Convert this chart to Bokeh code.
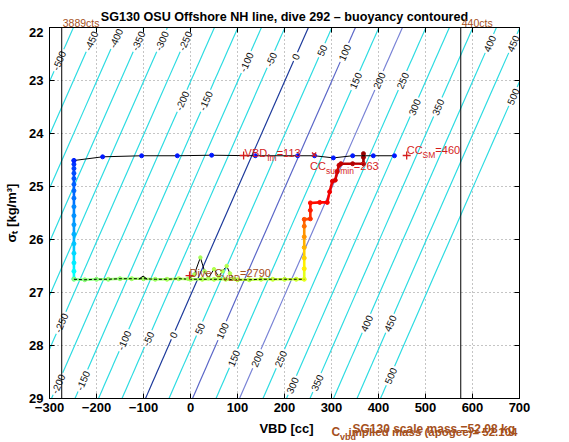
import math
import numpy as np
from bokeh.plotting import figure
from bokeh.layouts import column
from bokeh.models import Range1d, FixedTicker, LinearAxis, Label, Span, ColumnDataSource
from bokeh.core.properties import value
from bokeh.transform import linear_cmap
from bokeh.embed import file_html
from bokeh.resources import INLINE

# ------------------------------------------------------------------ data
TITLE = "SG130 OSU Offshore NH line, dive 292 \u2013 buoyancy contoured"
X_LABEL = "VBD [cc]"
Y_LABEL = "\u03c3\u209c [kg/m\u00b3]"
X_TICKS = [-300, -200, -100, 0, 100, 200, 300, 400, 500, 600, 700]
Y_TICKS = [22, 23, 24, 25, 26, 27, 28, 29]

SCALE_MASS_G = 52080.0      # SG130 scale mass
VOLUME_CC = 50708.0         # hull volume giving the neutral buoyancy line
CONTOUR_LEVELS = [-500, -450, -400, -350, -300, -250, -200, -150, -100, -50, 0,
                  50, 100, 150, 200, 250, 300, 350, 400, 450, 500]
CONTOUR_SPECIAL = {0: "#1f3c9c", 100: "#5c68c8", 200: "#7a84d6"}
CONTOUR_DEFAULT = "#2fdce2"

LABEL_LEVELS = [-500, -450, -400, -350, -300, -250, -200, -150, -100, -50, 0, 50, 100,
                150, 200, 250, 300, 350, 400, 450, 500,
                -250, -200, -150, -100, -50, 0, 50, 100, 150, 200, 250, 300, 350,
                400, 450, 500]
LABEL_SIGMAS = [22.62, 22.25, 22.2, 22.25, 22.25, 22.25, 23.38, 23.38, 22.65, 22.6, 22.55,
                22.43, 22.47, 23.0, 23.0, 23.0, 23.5, 23.5, 22.3, 22.3, 23.3,
                27.57, 28.72, 28.66, 27.9, 27.87, 27.8, 27.68, 27.72, 28.24, 28.25,
                28.25, 28.75, 28.7, 27.58, 27.58, 28.57]

VBD_LIMITS = [-274, 575]
VBD_LIMIT_TEXT = ["3889cts", "440cts"]

SURF_VBD = [434, 389, 345, 304, 264, 228, 138, 45, -28, -104, -187, -248]
SURF_SIG = [24.42, 24.42, 24.42, 24.46, 24.42, 24.42, 24.42, 24.41, 24.42, 24.42, 24.44, 24.51]
SURF_T = [0.15, 0.15, 0.15, 0.15, 0.15, 0.15, 0.15, 0.15, 0.15, 0.15, 0.15, 0.16]

DIVE_VBD = [-248, -248, -248, -248, -248, -248, -248, -248, -248, -248, -248, -248,
            -248, -248, -248, -248, -248]
DIVE_SIG = [24.51, 24.58, 24.66, 24.75, 24.85, 24.96, 25.08, 25.22, 25.38, 25.55, 25.72,
            25.90, 26.08, 26.26, 26.44, 26.60, 26.74]
DIVE_T = [0.17, 0.18, 0.19, 0.20, 0.21, 0.22, 0.23, 0.24, 0.26, 0.27, 0.28, 0.30, 0.32,
          0.34, 0.36, 0.38, 0.40]

BOT_VBD = [-248, -225, -200, -175, -150, -125, -100, -75, -50, -25, 0, 25, 50, 75, 100,
           125, 150, 175, 200, 225, 242]
BOT_SIG = [26.75, 26.76, 26.75, 26.75, 26.74, 26.74, 26.74, 26.75, 26.75, 26.74, 26.75,
           26.75, 26.75, 26.75, 26.76, 26.76, 26.75, 26.75, 26.75, 26.75, 26.75]
BOT_T = [0.50, 0.51, 0.51, 0.52, 0.52, 0.53, 0.53, 0.53, 0.54, 0.54, 0.54, 0.55, 0.55,
         0.55, 0.56, 0.56, 0.56, 0.57, 0.57, 0.58, 0.60]

CLIMB_VBD = [242, 242, 242, 242, 242, 242, 255, 255, 255, 275, 291, 296, 302, 308, 312,
             316, 320, 345, 368, 368, 368]
CLIMB_SIG = [26.55, 26.35, 26.15, 25.95, 25.75, 25.62, 25.61, 25.45, 25.31, 25.30, 25.30,
             25.10, 24.90, 24.88, 24.72, 24.60, 24.57, 24.57, 24.57, 24.45, 24.38]
CLIMB_T = [0.64, 0.67, 0.70, 0.73, 0.77, 0.80, 0.83, 0.85, 0.86, 0.87, 0.88, 0.89, 0.90,
           0.91, 0.92, 0.93, 0.94, 0.95, 0.96, 0.97, 0.98]

BUMP_VBD = [-110, -101, -92]
BUMP_SIG = [26.75, 26.69, 26.75]
WIG_VBD = [-5, 8, 21, 30, 38, 50, 60, 68, 77, 84, 92]
WIG_SIG = [26.74, 26.66, 26.34, 26.60, 26.73, 26.56, 26.70, 26.60, 26.50, 26.64, 26.74]
WIG_T = [0.54, 0.54, 0.54, 0.54, 0.54, 0.55, 0.55, 0.55, 0.55, 0.55, 0.55]

VBD_FM = 113
VBD_FM_SIG = 24.415
CC_SUR_MIN = 263
CC_SUR_MIN_SIG = 24.40
CC_SM = 460
CC_SM_SIG = 24.415
DIVE_MARK_VBD = -2
DIVE_MARK_SIG = 26.68
DIVE_C_VBD = 2790
SCALE_MASS_TEXT = "SG130 scale mass =52.08 kg"
IMPLIED_MASS_TEXT = "implied mass (apogee)= 52.104"

# ------------------------------------------------------------------ layout helpers
FONT = "Liberation Sans"
RED = "#d41c1c"
BROWN = "#a5501c"
WIN_W, WIN_H = 569, 442
FRAME_L, FRAME_T, FRAME_W, FRAME_H = 49, 27, 470, 371   # window px
MAIN_BOTTOM = 418                                         # window px where main figure ends
SX = FRAME_W / 1000.0
SY = FRAME_H / 7.0


def px2x(px):
    return (px - FRAME_L) / SX - 300.0


W_REG = {" ": 278, "(": 333, ")": 333, ".": 278, "/": 278, "=": 584, "[": 278, "]": 278,
         "-": 333, "A": 667, "B": 667, "C": 722, "D": 722, "G": 778, "M": 833, "S": 667,
         "V": 667, "a": 556, "b": 556, "c": 500, "d": 556, "e": 556, "f": 278, "g": 556,
         "i": 222, "k": 500, "l": 222, "m": 833, "n": 556, "o": 556, "p": 556, "r": 333,
         "s": 500, "t": 278, "u": 556, "v": 500, "y": 500}
W_BOLD = {" ": 278, "(": 333, ")": 333, ".": 278, "/": 278, "=": 584, "[": 333, "]": 333,
          "-": 333, "B": 722, "C": 722, "D": 722, "G": 778, "M": 833, "S": 667, "V": 667,
          "a": 556, "b": 611, "c": 556, "d": 611, "e": 556, "f": 333, "g": 611, "i": 278,
          "k": 556, "l": 278, "m": 889, "n": 611, "o": 611, "p": 611, "r": 389, "s": 556,
          "t": 333, "u": 611, "v": 556, "y": 556}


def text_w(s, size, bold):
    tab = W_BOLD if bold else W_REG
    return sum(tab.get(c, 556) for c in s) * size / 1000.0


def add_text(fig, x, y, txt, size, color, bold=False, align="left", angle=0.0):
    fig.add_layout(Label(x=x, y=y, text=txt, text_font=FONT, text_font_size=f"{size}px",
                         text_font_style="bold" if bold else "normal", text_color=color,
                         text_align=align, text_baseline="alphabetic", angle=angle))


def rich(fig, x, y, dx, dy, pieces, color, bold=False, ysc=SY):
    """Text pieces laid left to right; shift>0 moves a piece down (subscript)."""
    cur = 0.0
    for txt, size, shift in pieces:
        add_text(fig, x + (dx + cur) / SX, y + (dy + shift) / ysc, txt, size, color, bold)
        cur += text_w(txt, size, bold)


def strip(height, y0, y1):
    """Text strip above/below the axes; its frame lines up with the main frame."""
    f = figure(width=WIN_W, height=height, x_range=Range1d(-300, 700),
               y_range=Range1d(y0, y1), x_axis_type=None, y_axis_type=None,
               output_backend="svg", toolbar_location=None, title=None,
               min_border_left=FRAME_L, min_border_right=WIN_W - FRAME_L - FRAME_W,
               min_border_top=0, min_border_bottom=0)
    f.outline_line_color = None
    f.grid.visible = False
    f.background_fill_color = "white"
    f.border_fill_color = "white"
    return f


# ------------------------------------------------------------------ top strip (title)
ptop = strip(FRAME_T, FRAME_T, 0)
add_text(ptop, px2x(284), 16.5, TITLE, 12.6, "black", bold=True, align="center")
for v, t in zip(VBD_LIMITS, VBD_LIMIT_TEXT):
    add_text(ptop, v + 1 / SX, 22.5, t, 10.5, BROWN)

# ------------------------------------------------------------------ main plot
p = figure(width=WIN_W, height=MAIN_BOTTOM - FRAME_T,
           x_range=Range1d(-300, 700), y_range=Range1d(29, 22),
           output_backend="svg", toolbar_location=None, title=None,
           min_border_left=FRAME_L, min_border_right=WIN_W - FRAME_L - FRAME_W,
           min_border_top=0, min_border_bottom=MAIN_BOTTOM - FRAME_T - FRAME_H)
p.background_fill_color = "white"
p.border_fill_color = "white"
p.outline_line_color = "black"

for ax in (p.xaxis[0], p.yaxis[0]):
    ax.major_label_text_font = FONT
    ax.major_label_text_font_style = "bold"
    ax.major_label_text_font_size = "13px"
    ax.major_label_text_color = "black"
    ax.major_tick_in = 5
    ax.major_tick_out = 0
    ax.minor_tick_in = 0
    ax.minor_tick_out = 0
    ax.minor_tick_line_color = None
    ax.axis_line_color = "black"
    ax.major_tick_line_color = "black"
p.xaxis.ticker = FixedTicker(ticks=X_TICKS)
p.yaxis.ticker = FixedTicker(ticks=Y_TICKS)
p.xaxis.major_label_standoff = 4
p.yaxis.major_label_standoff = 6
p.yaxis.axis_label = Y_LABEL
p.yaxis.axis_label_text_font = FONT
p.yaxis.axis_label_text_font_style = "bold"
p.yaxis.axis_label_text_font_size = "13px"
p.yaxis.axis_label_text_color = "black"
p.yaxis.axis_label_standoff = 7
for loc, ticks in (("right", Y_TICKS), ("above", X_TICKS)):
    ax = LinearAxis(ticker=FixedTicker(ticks=ticks), major_tick_in=5, major_tick_out=0,
                    minor_tick_in=0, minor_tick_out=0,
                    minor_tick_line_color=None, major_label_text_font_size="0px",
                    major_label_text_color=None, major_label_standoff=0,
                    axis_line_color="black", major_tick_line_color="black")
    p.add_layout(ax, loc)

p.grid.grid_line_color = "#8a8a8a"
p.grid.grid_line_dash = "1 3"
p.grid.grid_line_width = 1


def _jet(v):
    r = min(max(1.5 - abs(4 * v - 3), 0), 1)
    g = min(max(1.5 - abs(4 * v - 2), 0), 1)
    b = min(max(1.5 - abs(4 * v - 1), 0), 1)
    return "#%02x%02x%02x" % (int(r * 255), int(g * 255), int(b * 255))


JET = [_jet(v) for v in np.linspace(0, 1, 256)]


def jet_of(ts):
    return [JET[min(255, int(t * 255))] for t in ts]


# buoyancy contours
ANG = math.atan2(SY, 49.4 * SX)
LINE_PX_PER_SIG = math.hypot(SY, 49.4 * SX)


def contour_vbd(level, sig):
    return level + SCALE_MASS_G * 1000.0 / (1000.0 + np.asarray(sig)) - VOLUME_CC


xs, ys, cols = [], [], []
for lev in CONTOUR_LEVELS:
    gaps = sorted((s, (text_w(str(lev), 10, False) / 2 + 2) / LINE_PX_PER_SIG)
                  for l, s in zip(LABEL_LEVELS, LABEL_SIGMAS) if l == lev)
    bounds = [22.0]
    for s, h in gaps:
        bounds += [s - h, s + h]
    bounds.append(29.0)
    for a, b in zip(bounds[0::2], bounds[1::2]):
        sg = np.linspace(a, b, 12)
        xs.append(list(contour_vbd(lev, sg)))
        ys.append(list(sg))
        cols.append(CONTOUR_SPECIAL.get(lev, CONTOUR_DEFAULT))
p.multi_line(xs, ys, line_color=cols, line_width=1.2)

lab_src = ColumnDataSource(dict(
    x=[float(contour_vbd(l, s)) for l, s in zip(LABEL_LEVELS, LABEL_SIGMAS)],
    y=LABEL_SIGMAS, text=[str(l) for l in LABEL_LEVELS]))
p.text("x", "y", text="text", source=lab_src, angle=ANG, text_align="center",
       text_baseline="middle", text_font=value(FONT), text_font_size="10px",
       text_color="#111111")

for v in VBD_LIMITS:
    p.add_layout(Span(location=v, dimension="height", line_color="black", line_width=1))

# dive trajectory coloured by time (jet)
PATH_VBD = DIVE_VBD + BOT_VBD + CLIMB_VBD
PATH_SIG = DIVE_SIG + BOT_SIG + CLIMB_SIG
PATH_T = DIVE_T + BOT_T + CLIMB_T
seg = ColumnDataSource(dict(x0=PATH_VBD[:-1], y0=PATH_SIG[:-1], x1=PATH_VBD[1:],
                            y1=PATH_SIG[1:], t=PATH_T[:-1]))
p.segment("x0", "y0", "x1", "y1", source=seg, line_color=linear_cmap("t", JET, 0, 1),
          line_width=2.6)
p.scatter(PATH_VBD, PATH_SIG, size=4, color=jet_of(PATH_T))

p.line(SURF_VBD, SURF_SIG, line_color="black", line_width=1)
p.scatter(SURF_VBD, SURF_SIG, size=4, color=jet_of(SURF_T))

p.line(BOT_VBD, BOT_SIG, line_color="black", line_width=1, line_dash="3 2")
p.line(BUMP_VBD, BUMP_SIG, line_color="black", line_width=1)
p.line(WIG_VBD, WIG_SIG, line_color="black", line_width=1)
p.scatter(WIG_VBD, WIG_SIG, size=3.5, color=jet_of(WIG_T))

p.scatter([VBD_FM, CC_SM, DIVE_MARK_VBD], [VBD_FM_SIG, CC_SM_SIG, DIVE_MARK_SIG],
          marker="cross", size=8, line_color=RED, line_width=1.3)
p.scatter([CC_SUR_MIN], [CC_SUR_MIN_SIG], marker="x", size=6, line_color=RED, line_width=1.3)

rich(p, VBD_FM, VBD_FM_SIG, 1, -2, [("VBD", 11, 0), ("fm", 8.5, 5), (f"={VBD_FM}", 11, 0)], RED)
rich(p, CC_SUR_MIN, CC_SUR_MIN_SIG, -4, 11,
     [("CC", 11, 0), ("sur min", 8.5, 5), (f"={CC_SUR_MIN}", 11, 0)], RED)
rich(p, CC_SM, CC_SM_SIG, 0, -5, [("CC", 11, 0), ("SM", 8.5, 5), (f"={CC_SM}", 11, 0)], RED)
rich(p, DIVE_MARK_VBD, DIVE_MARK_SIG, 0, -3,
     [("Dive C", 11, 0), ("VBD", 8.5, 5), (f"={DIVE_C_VBD}", 11, 0)], BROWN)

# ------------------------------------------------------------------ bottom strip
pbot = strip(WIN_H - MAIN_BOTTOM, WIN_H, MAIN_BOTTOM)
add_text(pbot, px2x(286), 428, X_LABEL, 13, "black", bold=True, align="center")
add_text(pbot, px2x(352), 428, SCALE_MASS_TEXT, 12, BROWN, bold=True)
IMPL_SIZE = 11.5
impl_right = FRAME_L + FRAME_W - 2
impl_left = impl_right - text_w(IMPLIED_MASS_TEXT, IMPL_SIZE, True)
c_left = impl_left - 17
rich(pbot, px2x(c_left), 431, 0, 0, [("C", 12, 0), ("vbd", 9, 5)], BROWN, bold=True, ysc=1.0)
add_text(pbot, px2x(impl_right), 431, IMPLIED_MASS_TEXT, IMPL_SIZE, BROWN, bold=True,
         align="right")

layout = column(ptop, p, pbot, spacing=0)
open("out.html", "w").write(file_html(layout, INLINE))
